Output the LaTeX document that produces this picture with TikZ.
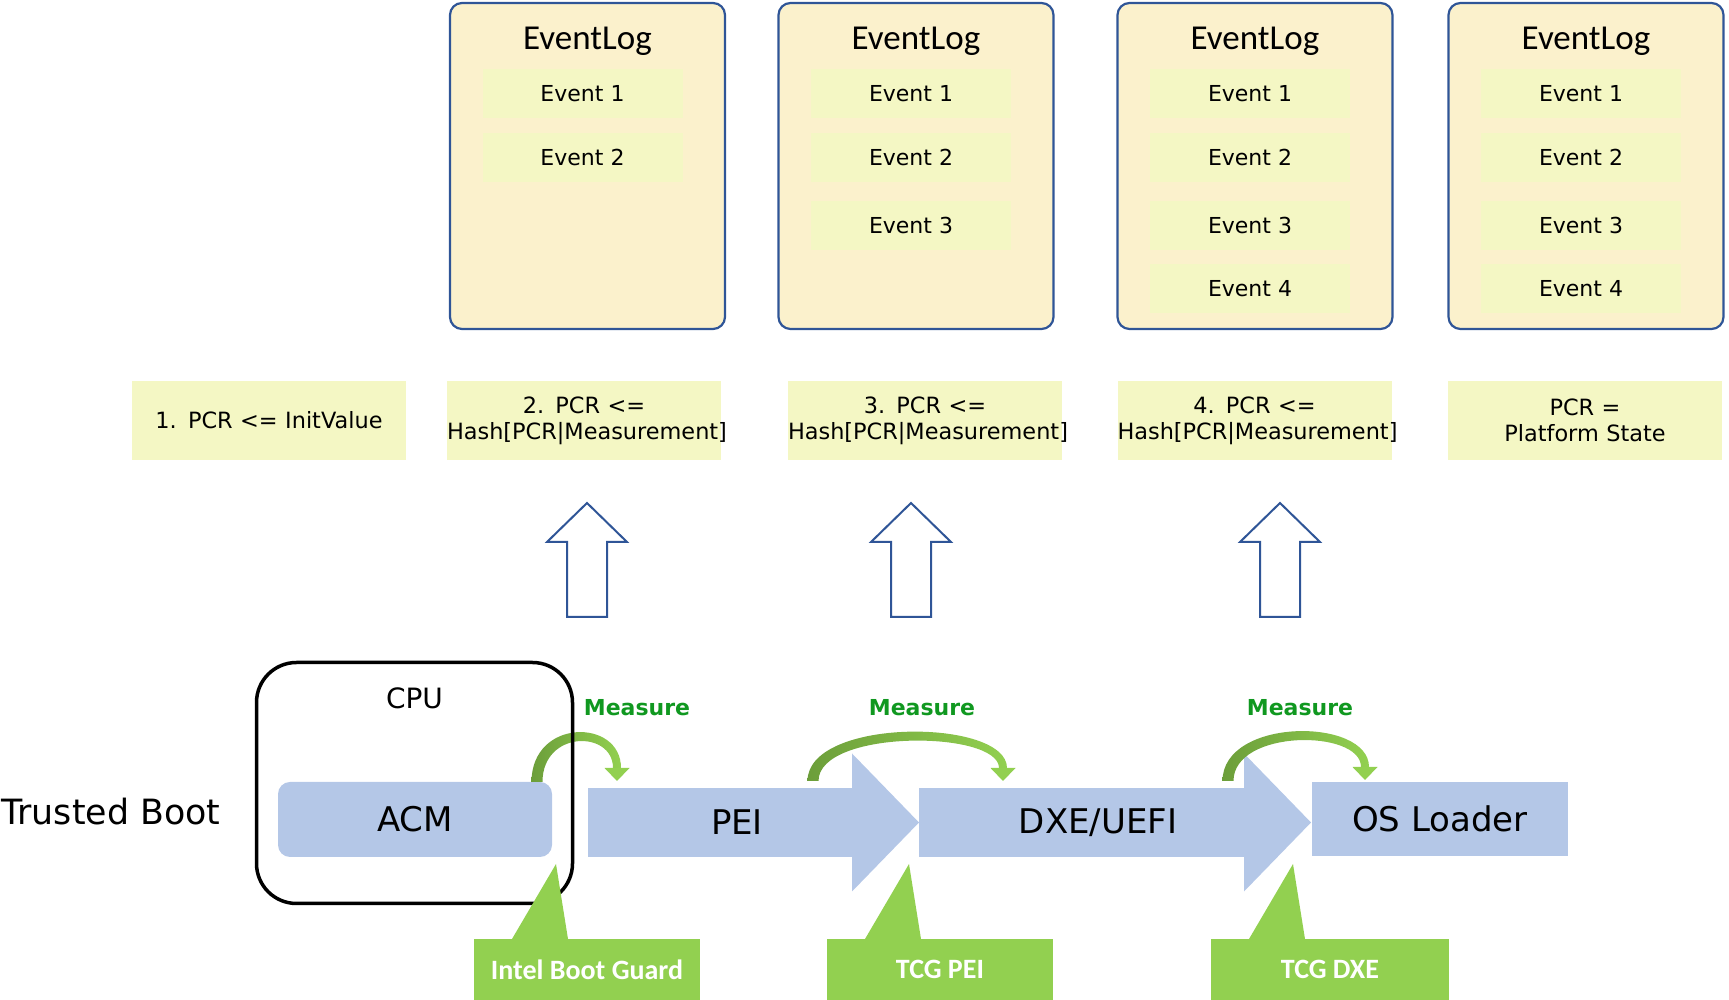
\documentclass[tikz,border=0pt]{standalone}
\usepackage{fontspec}
\setmainfont{DejaVu Sans}
\newfontfamily\calibfont{Carlito}
\usepackage{tikz}
\usetikzlibrary{
    positioning,
    calc
}
\tikzset{
  logbox/.style   = {draw=LogBlue, line width=1.1pt, rounded corners=6pt, fill=LogCream,
                     minimum width=137.5pt, minimum height=163pt},
  logtitle/.style = {anchor=base, inner sep=0pt, font=\calibfont\fontsize{17.5}{20}\selectfont},
  evt/.style      = {fill=PaleLime, minimum width=100pt, minimum height=24.5pt,
                     font=\fontsize{11}{13}\selectfont},
  pcr/.style      = {fill=PaleLime, text width=137pt, minimum height=39.5pt,
                     align=center, inner sep=0pt, font=\fontsize{11.2}{13}\selectfont},
  stage/.style    = {fill=StageBlue, minimum height=34.5pt, inner sep=0pt, outer sep=0pt,
                     font=\fontsize{17}{20}\selectfont},
  stagetxt/.style = {inner sep=0pt, font=\fontsize{17}{20}\selectfont},
  callout/.style  = {fill=CallGreen, text=white, minimum width=113pt, minimum height=30.5pt,
                     inner sep=0pt, outer sep=0pt, font=\calibfont\bfseries\fontsize{14}{16}\selectfont},
  meas/.style     = {text=MeasText, inner sep=0pt, font=\bfseries\fontsize{11}{13}\selectfont},
  uparrow/.style  = {draw=LogBlue, line width=1pt, fill=white}
}
\definecolor{LogBlue}{RGB}{47,85,151}
\definecolor{LogCream}{RGB}{251,241,204}
\definecolor{PaleLime}{RGB}{244,247,196}
\definecolor{StageBlue}{RGB}{180,199,231}
\definecolor{CallGreen}{RGB}{146,208,80}
\definecolor{MeasDark}{RGB}{108,158,58}
\definecolor{MeasLight}{RGB}{146,208,80}
\definecolor{MeasText}{RGB}{16,152,32}

% curved measure arrow: #1 = foot, #2 = tip
\newcommand{\measarc}[2]{%
  \shade[left color=MeasDark, right color=MeasLight]
    ([xshift=-2.75pt]#1) .. controls +(0,32pt) and +(0,25pt) .. ([xshift=2pt,yshift=6.5pt]#2)
    -- ([xshift=-2pt,yshift=6.5pt]#2) .. controls +(0,19pt) and +(0,26pt) .. ([xshift=2.75pt]#1)
    -- cycle;
  \fill[MeasLight] ([xshift=-6.25pt,yshift=6.5pt]#2) -- ([xshift=6.25pt,yshift=6.5pt]#2) -- (#2) -- cycle;
}
% pointer of a callout
\newcommand{\callptr}[1]{%
  \fill[CallGreen] ([xshift=19pt]#1.north west) -- ([xshift=41pt,yshift=37.5pt]#1.north west)
    -- ([xshift=47pt]#1.north west) -- cycle;
}

\begin{document}
\begin{tikzpicture}[x=0.5pt, y=0.5pt]
\useasboundingbox (0,0) rectangle (1729,1000);

% event logs
\node[logbox] (log1) at (587.5,834) {};
\node[logbox] (log2) at (916,834) {};
\node[logbox] (log3) at (1255,834) {};
\node[logbox] (log4) at (1586,834) {};
\node[logtitle] (t1) at ([yshift=-24pt]log1.north) {EventLog};
\node[logtitle] (t2) at ([yshift=-24pt]log2.north) {EventLog};
\node[logtitle] (t3) at ([yshift=-24pt]log3.north) {EventLog};
\node[logtitle] (t4) at ([yshift=-24pt]log4.north) {EventLog};

\node[evt] (e11) at (582.5,906) {Event 1};
\node[evt] (e12) at (582.5,842) {Event 2};
\node[evt] (e21) at (911,906) {Event 1};
\node[evt] (e22) at (911,842) {Event 2};
\node[evt] (e23) at (911,774) {Event 3};
\node[evt] (e31) at (1250,906) {Event 1};
\node[evt] (e32) at (1250,842) {Event 2};
\node[evt] (e33) at (1250,774) {Event 3};
\node[evt] (e34) at (1250,711) {Event 4};
\node[evt] (e41) at (1581,906) {Event 1};
\node[evt] (e42) at (1581,842) {Event 2};
\node[evt] (e43) at (1581,774) {Event 3};
\node[evt] (e44) at (1581,711) {Event 4};

% PCR states
\node[pcr] (pcr1) at (269,579.5) {1. PCR <= InitValue};
\node[pcr] (pcr2) at (584,579.5) {2. PCR <=\\Hash[PCR|Measurement]};
\node[pcr] (pcr3) at (925,579.5) {3. PCR <=\\Hash[PCR|Measurement]};
\node[pcr] (pcr4) at (1254.5,579.5) {4. PCR <=\\Hash[PCR|Measurement]};
\node[pcr] (pcr5) at (1585,579.5) {PCR =\\Platform State};

% hollow up arrows
\foreach \x in {587,911,1280}
  \draw[uparrow] (\x-20,383) -- (\x+20,383) -- (\x+20,458) -- (\x+40,458)
    -- (\x,497) -- (\x-40,458) -- (\x-20,458) -- cycle;

% boot stages
\node[anchor=west, inner sep=0pt, font=\fontsize{17.4}{20}\selectfont] (tb) at (1,188) {Trusted Boot};
\node[stage, rounded corners=6pt, minimum width=137pt, minimum height=37.5pt] (acm) at (415,180.5) {ACM};
\node[stage, minimum width=132pt] (pei) at (720,177.5) {};
\fill[StageBlue] ([yshift=34.5pt]pei.east) -- ([xshift=33.5pt]pei.east) -- ([yshift=-34.5pt]pei.east) -- cycle;
\node[stagetxt] (peitxt) at ([xshift=8.5pt]pei.center) {PEI};
\node[stage, minimum width=162.5pt] (dxe) at (1081.5,177.5) {};
\fill[StageBlue] ([yshift=34.5pt]dxe.east) -- ([xshift=33.5pt]dxe.east) -- ([yshift=-34.5pt]dxe.east) -- cycle;
\node[stagetxt] (dxetxt) at ([xshift=8.25pt]dxe.center) {DXE/UEFI};
\node[stage, minimum width=128pt, minimum height=37pt] (osl) at (1440,181) {OS Loader};

% measure arrows
\coordinate (m1a) at ([xshift=-7.5pt]acm.north east);
\coordinate (m1b) at ([xshift=14.5pt,yshift=3.5pt]pei.north west);
\coordinate (m2a) at ([xshift=-19.5pt,yshift=3.5pt]pei.north east);
\coordinate (m2b) at ([xshift=42pt,yshift=3.5pt]dxe.north west);
\coordinate (m3a) at ([xshift=-8pt,yshift=3.5pt]dxe.north east);
\coordinate (m3b) at ([xshift=26.5pt,yshift=1pt]osl.north west);
\measarc{m1a}{m1b}
\measarc{m2a}{m2b}
\measarc{m3a}{m3b}
\node[meas] (ms1) at (637,292) {Measure};
\node[meas] (ms2) at (922,292) {Measure};
\node[meas] (ms3) at (1300,292) {Measure};

% CPU
\node[draw, line width=1.75pt, rounded corners=20pt, minimum width=158pt, minimum height=120.5pt] (cpu) at (414.5,217) {};
\node[inner sep=0pt, font=\fontsize{14}{17}\selectfont] (cputxt) at ([yshift=-19pt]cpu.north) {CPU};

% callouts
\node[callout] (ibg) at (587,30.5) {Intel Boot Guard};
\node[callout] (tpei) at (940,30.5) {TCG PEI};
\node[callout, minimum width=119pt] (tdxe) at (1330,30.5) {TCG DXE};
\callptr{ibg}
\callptr{tpei}
\callptr{tdxe}
\end{tikzpicture}
\end{document}
